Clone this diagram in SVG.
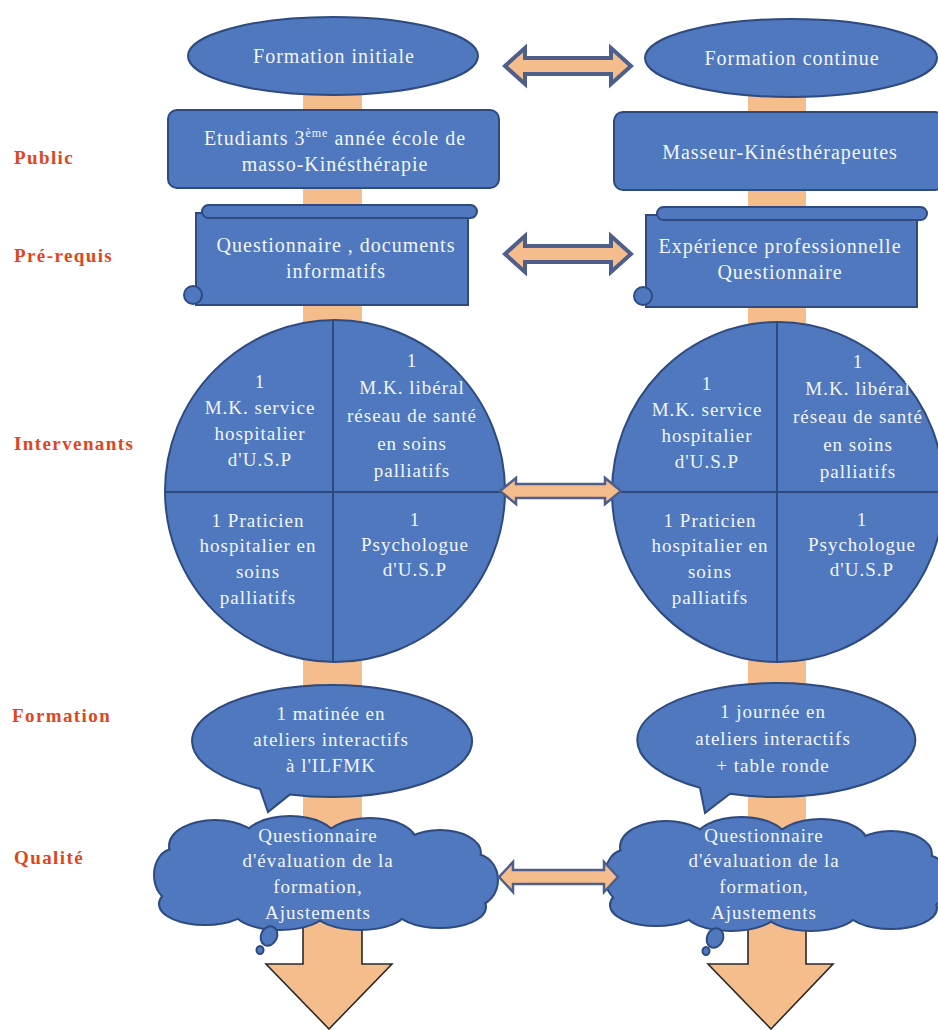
<svg xmlns="http://www.w3.org/2000/svg" width="938" height="1030" viewBox="0 0 938 1030">
<defs>
  <g id="cloudshape">
    <ellipse cx="215" cy="846" rx="45" ry="25"/><ellipse cx="290" cy="839" rx="45" ry="22"/>
    <ellipse cx="370" cy="841" rx="45" ry="22"/><ellipse cx="440" cy="853" rx="40" ry="22"/>
    <ellipse cx="475" cy="880" rx="22" ry="25"/><ellipse cx="440" cy="907" rx="45" ry="20"/>
    <ellipse cx="360" cy="911" rx="45" ry="18"/><ellipse cx="280" cy="911" rx="45" ry="18"/>
    <ellipse cx="205" cy="904" rx="45" ry="20"/><ellipse cx="173" cy="875" rx="18" ry="25"/>
    <ellipse cx="327" cy="874" rx="155" ry="45"/>
  </g>
</defs>
<style>
.shape{fill:#4F78BE;stroke:#2E4A7E;stroke-width:2}
.fillonly{fill:#4F78BE;stroke:none}
.cloudout{fill:#4F78BE;stroke:#2E4A7E;stroke-width:4}
.bar{fill:#F6BD8C;stroke:none}
.arrowout{fill:none;stroke:#2A2A2A;stroke-width:1.6}
.dbl{fill:#F6BD8C;stroke:#4E5F8C;stroke-width:4;stroke-linejoin:miter}
.dbl2{fill:#F6BD8C;stroke:#4E5F8C;stroke-width:2.5}
.divider{stroke:#2E4A7E;stroke-width:2}
.t{font-family:"Liberation Serif",serif;font-size:19px;letter-spacing:1px;fill:#F2F5FB;text-anchor:middle}
.big{font-size:20px}
.lbl{font-family:"Liberation Serif",serif;font-size:19px;font-weight:bold;fill:#E0461C;letter-spacing:1.4px}
</style>

<g id="connectors">
  <path class="bar" d="M303 90 L362 90 L362 964 L392 964 L329 1029 L266 964 L303 964 Z"/>
  <path class="arrowout" d="M303 926 L303 964 L266 964 L329 1029 L392 964 L362 964 L362 926"/>
  <path class="bar" d="M748 90 L806 90 L806 964 L833 964 L771 1029 L708 964 L748 964 Z"/>
  <path class="arrowout" d="M748 926 L748 964 L708 964 L771 1029 L833 964 L806 964 L806 926"/>
</g>

<g id="labels">
  <text class="lbl" x="14" y="164">Public</text>
  <text class="lbl" x="14" y="262">Pré-requis</text>
  <text class="lbl" x="14" y="450">Intervenants</text>
  <text class="lbl" x="12" y="722">Formation</text>
  <text class="lbl" x="14" y="864">Qualité</text>
</g>

<g id="node-formation-initiale">
  <ellipse class="shape" cx="333" cy="56" rx="145" ry="39"/>
  <text class="t big" x="334" y="63">Formation initiale</text>
</g>
<g id="node-formation-continue">
  <ellipse class="shape" cx="791" cy="58" rx="146" ry="39"/>
  <text class="t big" x="792" y="65">Formation continue</text>
</g>

<g id="node-public-initial">
  <rect class="shape" x="168" y="110" width="331" height="78" rx="9"/>
  <text class="t big" x="335" y="145">Etudiants 3<tspan font-size="12" dy="-8">ème</tspan><tspan dy="8"> année école de</tspan></text>
  <text class="t big" x="335" y="171">masso-Kinésthérapie</text>
</g>
<g id="node-public-continue">
  <rect class="shape" x="614" y="112" width="330" height="78" rx="9"/>
  <text class="t big" x="780" y="159">Masseur-Kinésthérapeutes</text>
</g>

<g id="node-prerequis-initial">
  <rect class="shape" x="196" y="213" width="272" height="92"/>
  <rect class="shape" x="202" y="205" width="275" height="13" rx="6.5"/>
  <circle class="shape" cx="193" cy="295" r="9"/>
  <text class="t big" x="336" y="252">Questionnaire , documents</text>
  <text class="t big" x="336" y="278">informatifs</text>
</g>
<g id="node-prerequis-continue">
  <rect class="shape" x="646" y="215" width="271" height="92"/>
  <rect class="shape" x="657" y="207" width="270" height="13" rx="6.5"/>
  <circle class="shape" cx="643" cy="296" r="9"/>
  <text class="t big" x="780" y="253">Expérience professionnelle</text>
  <text class="t big" x="780" y="279">Questionnaire</text>
</g>

<g id="node-intervenants-initial">
  <ellipse class="shape" cx="335" cy="491" rx="170" ry="171"/>
  <line class="divider" x1="333" y1="320" x2="333" y2="662"/>
  <line class="divider" x1="165" y1="492" x2="505" y2="492"/>
  <text class="t"><tspan x="260" y="388">1</tspan><tspan x="260" y="414">M.K. service</tspan><tspan x="260" y="440">hospitalier</tspan><tspan x="260" y="466">d'U.S.P</tspan></text>
  <text class="t"><tspan x="412" y="367">1</tspan><tspan x="412" y="394">M.K. libéral</tspan><tspan x="412" y="422">réseau de santé</tspan><tspan x="412" y="450">en soins</tspan><tspan x="412" y="477">palliatifs</tspan></text>
  <text class="t"><tspan x="258" y="527">1 Praticien</tspan><tspan x="258" y="552">hospitalier en</tspan><tspan x="258" y="578">soins</tspan><tspan x="258" y="604">palliatifs</tspan></text>
  <text class="t"><tspan x="415" y="526">1</tspan><tspan x="415" y="551">Psychologue</tspan><tspan x="415" y="576">d'U.S.P</tspan></text>
</g>
<g id="node-intervenants-continue">
  <ellipse class="shape" cx="778" cy="492" rx="166" ry="170"/>
  <line class="divider" x1="777" y1="322" x2="777" y2="662"/>
  <line class="divider" x1="612" y1="492" x2="940" y2="492"/>
  <text class="t"><tspan x="707" y="390">1</tspan><tspan x="707" y="416">M.K. service</tspan><tspan x="707" y="442">hospitalier</tspan><tspan x="707" y="468">d'U.S.P</tspan></text>
  <text class="t"><tspan x="858" y="368">1</tspan><tspan x="858" y="395">M.K. libéral</tspan><tspan x="858" y="423">réseau de santé</tspan><tspan x="858" y="451">en soins</tspan><tspan x="858" y="478">palliatifs</tspan></text>
  <text class="t"><tspan x="710" y="527">1 Praticien</tspan><tspan x="710" y="552">hospitalier en</tspan><tspan x="710" y="578">soins</tspan><tspan x="710" y="604">palliatifs</tspan></text>
  <text class="t"><tspan x="862" y="526">1</tspan><tspan x="862" y="551">Psychologue</tspan><tspan x="862" y="576">d'U.S.P</tspan></text>
</g>

<g id="node-formation-initial">
  <path class="shape" d="M290 794.4 A140 56 0 1 0 260 789 L268 812 Z"/>
  <text class="t"><tspan x="331" y="720">1 matinée en</tspan><tspan x="331" y="746">ateliers interactifs</tspan><tspan x="331" y="772">à l'ILFMK</tspan></text>
</g>
<g id="node-formation-continue">
  <path class="shape" d="M730 793.8 A139 57 0 1 0 700 787.7 L705 813 Z"/>
  <text class="t"><tspan x="773" y="718">1 journée en</tspan><tspan x="773" y="745">ateliers interactifs</tspan><tspan x="773" y="772">+ table ronde</tspan></text>
</g>

<g id="node-qualite-initial">
  <use href="#cloudshape" class="cloudout"/>
  <use href="#cloudshape" class="fillonly"/>
  <ellipse class="shape" cx="269" cy="936" rx="8" ry="10" transform="rotate(25 269 936)"/>
  <ellipse class="shape" cx="260" cy="950" rx="3.5" ry="4"/>
  <text class="t"><tspan x="318" y="842">Questionnaire</tspan><tspan x="318" y="867">d'évaluation de la</tspan><tspan x="318" y="893">formation,</tspan><tspan x="318" y="919">Ajustements</tspan></text>
</g>
<g id="node-qualite-continue">
  <use href="#cloudshape" class="cloudout" transform="translate(451 1)"/>
  <use href="#cloudshape" class="fillonly" transform="translate(451 1)"/>
  <ellipse class="shape" cx="715" cy="938" rx="8" ry="10" transform="rotate(25 715 938)"/>
  <ellipse class="shape" cx="706" cy="951" rx="3.5" ry="4"/>
  <text class="t"><tspan x="764" y="842">Questionnaire</tspan><tspan x="764" y="867">d'évaluation de la</tspan><tspan x="764" y="893">formation,</tspan><tspan x="764" y="919">Ajustements</tspan></text>
</g>

<g id="double-arrows">
  <path class="dbl" d="M505 66 L525 48 L525 58 L611 58 L611 48 L631 66 L611 84 L611 74 L525 74 L525 84 Z"/>
  <path class="dbl" d="M505 254 L525 236 L525 246 L611 246 L611 236 L631 254 L611 272 L611 262 L525 262 L525 272 Z"/>
  <path class="dbl2" d="M500 491 L516 478 L516 484 L605 484 L605 478 L621 491 L605 504 L605 498 L516 498 L516 504 Z"/>
  <path class="dbl2" d="M499 877 L513 862 L513 870 L604 870 L604 862 L618 877 L604 892 L604 884 L513 884 L513 892 Z"/>
</g>
</svg>
